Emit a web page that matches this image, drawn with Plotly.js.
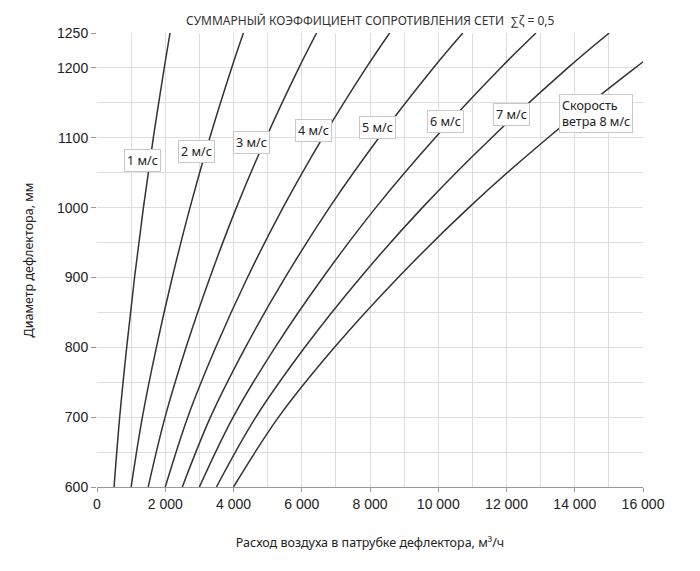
<!DOCTYPE html>
<html>
<head>
<meta charset="utf-8">
<script src="https://cdn.plot.ly/plotly-3.0.1.min.js"></script>
<style>html,body{margin:0;padding:0;background:#fff;}#chart{width:700px;height:571px;}</style>
</head>
<body>
<div id="chart"></div>
<script>
// Diameter of deflector, mm
const diameters = [600, 700, 800, 900, 1000, 1100, 1200, 1250];
// Air flow, m3/h, for each wind speed
const v1 = [500, 665, 870, 1100, 1360, 1650, 1970, 2140];
const v2 = [1000, 1330, 1740, 2205, 2725, 3305, 3945, 4290];
const v3 = [1500, 1995, 2610, 3310, 4085, 4955, 5915, 6435];
const v4 = [2000, 2660, 3480, 4410, 5450, 6610, 7885, 8575];
const v5 = [2500, 3325, 4350, 5515, 6810, 8260, 9855, 10720];
const v6 = [3000, 3990, 5220, 6620, 8170, 9910, 11825, 12865];
const v7 = [3500, 4655, 6090, 7720, 9535, 11565, 13795, 15010];
const v8 = [4000, 5320, 6960, 8825, 10895, 13215, 15770, 17150];
const seriesNames = ["1 м/с", "2 м/с", "3 м/с", "4 м/с", "5 м/с", "6 м/с", "7 м/с", "8 м/с"];
const series = [v1, v2, v3, v4, v5, v6, v7, v8];

// Curve labels
const labelTexts = ["1 м/с", "2 м/с", "3 м/с", "4 м/с", "5 м/с", "6 м/с", "7 м/с", "Скорость<br>ветра 8 м/с"];
const labelX = [1319, 2901, 4513, 6350, 8234, 10212, 12132, 14608];
const labelY = [1068, 1081, 1093, 1110, 1115, 1123, 1133, 1135];

const xTickVals = [0, 2000, 4000, 6000, 8000, 10000, 12000, 14000, 16000];
const xTickText = ["0", "2 000", "4 000", "6 000", "8 000", "10 000", "12 000", "14 000", "16 000"];
const yTickVals = [600, 700, 800, 900, 1000, 1100, 1200, 1250];
const yTickText = ["600", "700", "800", "900", "1000", "1100", "1200", "1250"];

const traces = series.map((s, i) => ({
  type: "scatter",
  mode: "lines",
  x: s,
  y: diameters,
  name: seriesNames[i],
  line: {color: "#333333", width: 1.5, shape: "spline", smoothing: 1},
  hoverinfo: "skip",
  showlegend: false
}));

const annotations = labelTexts.map((t, i) => ({
  x: labelX[i], y: labelY[i], xref: "x", yref: "y",
  text: t, showarrow: false,
  font: {family: "Noto Sans, sans-serif", size: 12.5, color: "#222"},
  bgcolor: "#ffffff", bordercolor: "#c8c8c8", borderwidth: 1, borderpad: 2,
  align: "left"
}));

annotations.push({
  xref: "paper", yref: "paper", x: 0.5, y: 1, yshift: 23,
  text: "СУММАРНЫЙ КОЭФФИЦИЕНТ СОПРОТИВЛЕНИЯ СЕТИ  ∑ζ = 0,5",
  showarrow: false, font: {family: "Noto Sans, sans-serif", size: 12, color: "#333"}
});

const layout = {
  width: 700, height: 571,
  margin: {l: 97, r: 57, t: 33, b: 84},
  paper_bgcolor: "#fff", plot_bgcolor: "#fff",
  xaxis: {
    range: [0, 16000],
    tickvals: xTickVals, ticktext: xTickText,
    ticks: "outside", ticklen: 4, tickcolor: "#999",
    showgrid: true, gridcolor: "#dedede", gridwidth: 1,
    minor: {dtick: 1000, tick0: 0, showgrid: true, gridcolor: "#dedede", ticks: ""},
    zeroline: false,
    showline: true, linecolor: "#999", linewidth: 1,
    tickfont: {family: "Liberation Sans, Arial, sans-serif", size: 14, color: "#222"},
    title: {text: "Расход воздуха в патрубке дефлектора, м³/ч", standoff: 27,
            font: {family: "Noto Sans, sans-serif", size: 12.5, color: "#222"}},
    fixedrange: true
  },
  yaxis: {
    range: [600, 1250],
    tickvals: yTickVals, ticktext: yTickText,
    ticks: "outside", ticklen: 5, tickcolor: "#999",
    showgrid: true, gridcolor: "#dedede", gridwidth: 1,
    minor: {dtick: 50, tick0: 600, showgrid: true, gridcolor: "#dedede", ticks: ""},
    zeroline: false,
    showline: false,
    tickfont: {family: "Liberation Sans, Arial, sans-serif", size: 14, color: "#222"},
    title: {text: "Диаметр дефлектора, мм", standoff: 20,
            font: {family: "Noto Sans, sans-serif", size: 12.5, color: "#222"}},
    fixedrange: true
  },
  annotations: annotations,
  showlegend: false
};

Plotly.newPlot("chart", traces, layout, {displayModeBar: false, staticPlot: true});
</script>
</body>
</html>
